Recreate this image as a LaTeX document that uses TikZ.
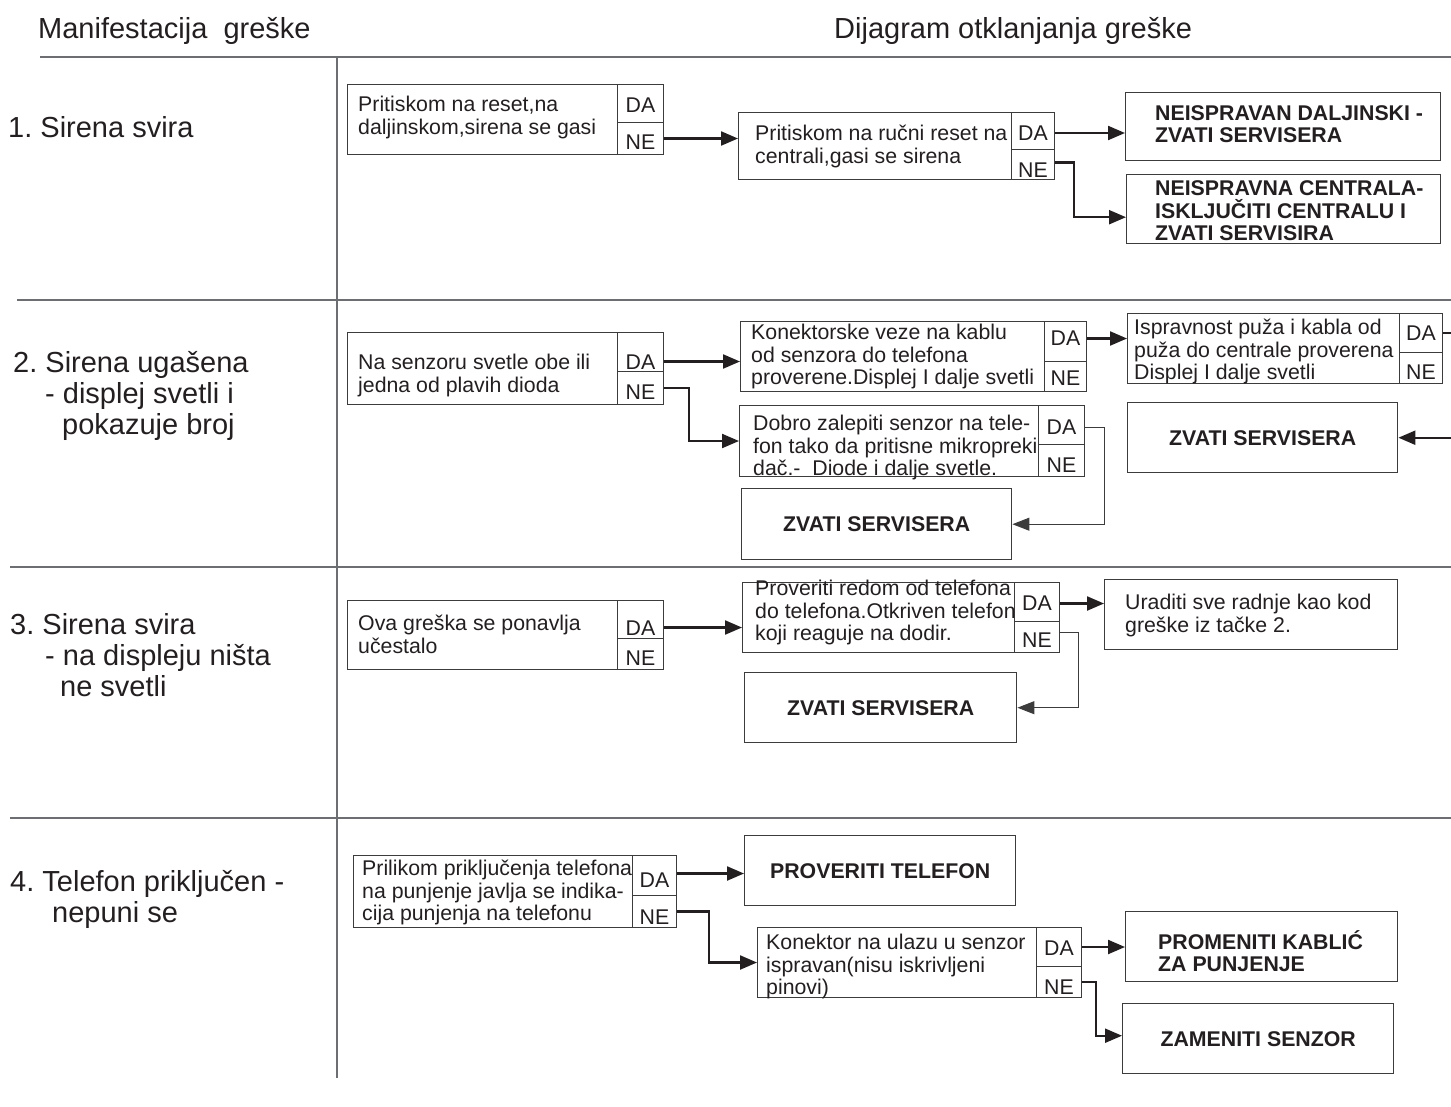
\documentclass[tikz,border=0pt]{standalone}
\usepackage{fontspec}
\setmainfont{Liberation Sans}
\usetikzlibrary{arrows.meta,calc}
\definecolor{ink}{HTML}{231F20}
\definecolor{gridc}{HTML}{6D6E71}
\definecolor{boxc}{HTML}{3C3C3C}
\newcommand\qf{\fontsize{21.3}{22.5}\selectfont}
\newcommand\rf{\fontsize{21.3}{22.5}\selectfont\bfseries}
\newcommand\lf{\fontsize{29}{31}\selectfont}
\frenchspacing
\begin{document}
\begin{tikzpicture}[x=1pt,y=-1pt,
  gridline/.style={draw=gridc, line width=1.4pt},
  qbox/.style={draw=boxc, line width=1pt, inner sep=0pt, anchor=north west},
  rbox/.style={draw=boxc, line width=1.4pt, inner sep=0pt, anchor=north west, font=\rf, text=ink},
  cell/.style={draw=boxc, line width=1pt, inner sep=0pt, anchor=north west},
  lab/.style={font=\qf, text=ink, inner sep=0pt},
  qtxt/.style={inner sep=0pt, anchor=north west, align=left, font=\qf, text=ink},
  rtxt/.style={inner sep=0pt, anchor=north west, align=left, font=\rf, text=ink},
  ltxt/.style={inner sep=0pt, anchor=north west, align=left, font=\lf, text=ink},
  bigarrow/.style={draw=ink, line width=2.2pt, -{Triangle[length=17pt,width=14pt]}},
  thinarrow/.style={draw=boxc, line width=1pt, -{Triangle[length=17pt,width=13pt]}}]
\useasboundingbox (0,0) rectangle (1451,1106);

% table lines
\draw[gridline] (40,57) -- (1451,57);
\draw[gridline] (17,300) -- (1451,300);
\draw[gridline] (10,567) -- (1451,567);
\draw[gridline] (10,818) -- (1451,818);
\draw[gridline] (337,57) -- (337,1078);

% headers
\node[ltxt] (h1) at (38,17) {Manifestacija\ \ greške};
\node[ltxt] (h2) at (834,17) {Dijagram otklanjanja greške};

% row labels
\node[ltxt] (l1) at (8,116) {1. Sirena svira};
\node[ltxt] (l2) at (13,351) {2. Sirena ugašena\\\hspace*{32pt}- displej svetli i\\\hspace*{49pt}pokazuje broj};
\node[ltxt] (l3) at (10,613) {3. Sirena svira\\\hspace*{35pt}- na displeju ništa\\\hspace*{50pt}ne svetli};
\node[ltxt] (l4) at (10,870) {4. Telefon priključen -\\\hspace*{42pt}nepuni se};

% ---------- row 1
\node[qbox, minimum width=316pt, minimum height=70pt] (a1) at (347,84) {};
\node[cell, minimum width=46pt, minimum height=38pt, label={[lab,yshift=-2pt]center:DA}] (a1da) at (617,84) {};
\node[cell, minimum width=46pt, minimum height=32pt, label={[lab,yshift=-4pt]center:NE}] (a1ne) at (617,122) {};
\node[qtxt] (a1t) at (358,96) {Pritiskom na reset,na\\daljinskom,sirena se gasi};

\node[qbox, minimum width=316pt, minimum height=67pt] (b1) at (738,112) {};
\node[cell, minimum width=43pt, minimum height=37pt, label={[lab,yshift=-2.5pt]center:DA}] (b1da) at (1011,112) {};
\node[cell, minimum width=43pt, minimum height=30pt, label={[lab,yshift=-6pt]center:NE}] (b1ne) at (1011,149) {};
\node[qtxt] (b1t) at (755,125) {Pritiskom na ručni reset na\\centrali,gasi se sirena};

\node[rbox, minimum width=315pt, minimum height=68pt] (c1) at (1125,92) {};
\node[rtxt] (c1t) at (1155,105) {NEISPRAVAN DALJINSKI -\\ZVATI SERVISERA};
\node[rbox, minimum width=314pt, minimum height=69pt] (d1) at (1126,174) {};
\node[rtxt] (d1t) at (1155,180.5) {NEISPRAVNA CENTRALA-\\ISKLJUČITI CENTRALU I\\ZVATI SERVISIRA};

\draw[bigarrow] (a1ne.east) -- (a1ne.east -| b1.west);
\draw[bigarrow] ([yshift=-2pt]b1da.east) -- ([yshift=-2pt]b1da.east -| c1.west);
\draw[bigarrow] ([yshift=2pt]b1ne.east) -- ++(19,0) |- ([yshift=-8pt]d1.west);

% ---------- row 2
\node[qbox, minimum width=316pt, minimum height=72pt] (a2) at (347,332) {};
\node[cell, minimum width=46pt, minimum height=39pt, label={[lab,yshift=-10pt]center:DA}] (a2da) at (617,332) {};
\node[cell, minimum width=46pt, minimum height=33pt, label={[lab,yshift=-4.5pt]center:NE}] (a2ne) at (617,371) {};
\node[qtxt] (a2t) at (358,354) {Na senzoru svetle obe ili\\jedna od plavih dioda};

\node[qbox, minimum width=346pt, minimum height=70pt] (b2) at (740,321) {};
\node[cell, minimum width=42pt, minimum height=40pt, label={[lab,yshift=3pt]center:DA}] (b2da) at (1044,321) {};
\node[cell, minimum width=42pt, minimum height=30pt, label={[lab,yshift=-2pt]center:NE}] (b2ne) at (1044,361) {};
\node[qtxt] (b2t) at (751,324) {Konektorske veze na kablu\\od senzora do telefona\\proverene.Displej I dalje svetli};

\node[qbox, minimum width=315pt, minimum height=70pt] (c2) at (1127,313) {};
\node[cell, minimum width=43pt, minimum height=39pt, label={[lab]center:DA}] (c2da) at (1399,313) {};
\node[cell, minimum width=43pt, minimum height=31pt, label={[lab,yshift=-4.5pt]center:NE}] (c2ne) at (1399,352) {};
\node[qtxt] (c2t) at (1134,319) {Ispravnost puža i kabla od\\puža do centrale proverena\\Displej I dalje svetli};

\node[rbox, minimum width=270pt, minimum height=70pt] (e2) at (1127,402) {ZVATI SERVISERA};

\node[qbox, minimum width=345pt, minimum height=71pt] (f2) at (739,405) {};
\node[cell, minimum width=46pt, minimum height=39pt, label={[lab,yshift=-2.5pt]center:DA}] (f2da) at (1038,405) {};
\node[cell, minimum width=46pt, minimum height=32pt, label={[lab,yshift=-5pt]center:NE}] (f2ne) at (1038,444) {};
\node[qtxt] (f2t) at (753,415) {Dobro zalepiti senzor na tele-\\fon tako da pritisne mikropreki\\dač.-\ \ Diode i dalje svetle.};

\node[rbox, minimum width=270pt, minimum height=71pt] (g2) at (741,488) {ZVATI SERVISERA};

\draw[bigarrow] ([yshift=-9.5pt]a2da.east) -- ([yshift=-9.5pt]a2da.east -| b2.west);
\draw[bigarrow] (a2ne.east) -- ++(25,0) |- (f2.west);
\draw[bigarrow] ([yshift=3pt]b2da.east) -- ([yshift=3pt]b2da.east -| c2.west);
\draw[bigarrow] (c2da.east) -- ++(25,0) |- (e2.east);
\draw[thinarrow] ([yshift=-2pt]f2da.east) -- ++(19,0) |- (g2.east);

% ---------- row 3
\node[qbox, minimum width=316pt, minimum height=69pt] (a3) at (347,600) {};
\node[cell, minimum width=46pt, minimum height=38pt, label={[lab,yshift=-9pt]center:DA}] (a3da) at (617,600) {};
\node[cell, minimum width=46pt, minimum height=31pt, label={[lab,yshift=-4.5pt]center:NE}] (a3ne) at (617,638) {};
\node[qtxt] (a3t) at (358,615) {Ova greška se ponavlja\\učestalo};

\node[qbox, minimum width=317pt, minimum height=70pt] (b3) at (742,582) {};
\node[cell, minimum width=45pt, minimum height=39pt, label={[lab,yshift=-1.5pt]center:DA}] (b3da) at (1014,582) {};
\node[cell, minimum width=45pt, minimum height=31pt, label={[lab,yshift=-3.5pt]center:NE}] (b3ne) at (1014,621) {};
\node[qtxt] (b3t) at (755,580) {Proveriti redom od telefona\\do telefona.Otkriven telefon\\koji reaguje na dodir.};

\node[qbox, minimum width=293pt, minimum height=70pt] (c3) at (1104,579) {};
\node[qtxt] (c3t) at (1125,594) {Uraditi sve radnje kao kod\\greške iz tačke 2.};

\node[rbox, minimum width=272pt, minimum height=70pt] (d3) at (744,672) {ZVATI SERVISERA};

\draw[bigarrow] ([yshift=-8pt]a3da.east) -- ([yshift=-8pt]a3da.east -| b3.west);
\draw[bigarrow] ([yshift=-1.5pt]b3da.east) -- ([yshift=-1.5pt]b3da.east -| c3.west);
\draw[thinarrow] ([yshift=4.5pt]b3ne.east) -- ++(18,0) |- (d3.east);

% ---------- row 4
\node[qbox, minimum width=323pt, minimum height=72pt] (a4) at (353,855) {};
\node[cell, minimum width=44pt, minimum height=40pt, label={[lab,yshift=-5pt]center:DA}] (a4da) at (632,855) {};
\node[cell, minimum width=44pt, minimum height=32pt, label={[lab,yshift=-6pt]center:NE}] (a4ne) at (632,895) {};
\node[qtxt] (a4t) at (362,860) {Prilikom priključenja telefona\\na punjenje javlja se indika-\\cija punjenja na telefonu};

\node[rbox, minimum width=271pt, minimum height=70pt] (b4) at (744,835) {PROVERITI TELEFON};

\node[qbox, minimum width=324pt, minimum height=70pt] (c4) at (757,927) {};
\node[cell, minimum width=45pt, minimum height=39pt, label={[lab,yshift=-1.5pt]center:DA}] (c4da) at (1036,927) {};
\node[cell, minimum width=45pt, minimum height=31pt, label={[lab,yshift=-5.5pt]center:NE}] (c4ne) at (1036,966) {};
\node[qtxt] (c4t) at (766,934) {Konektor na ulazu u senzor\\ispravan(nisu iskrivljeni\\pinovi)};

\node[rbox, minimum width=272pt, minimum height=70pt] (d4) at (1125,911) {};
\node[rtxt] (d4t) at (1158,930) {PROMENITI KABLIĆ\\ZA PUNJENJE};
\node[rbox, minimum width=271pt, minimum height=70pt] (e4) at (1122,1003) {ZAMENITI SENZOR};

\draw[bigarrow] ([yshift=2pt]a4da.east) -- ([yshift=2pt]a4da.east -| b4.west);
\draw[bigarrow] (a4ne.east) -- ++(32,0) |- (c4.west);
\draw[bigarrow] (c4da.east) -- (c4da.east -| d4.west);
\draw[bigarrow] (c4ne.east) -- ++(14,0) |- ([yshift=3pt]e4.west);
\end{tikzpicture}
\end{document}
